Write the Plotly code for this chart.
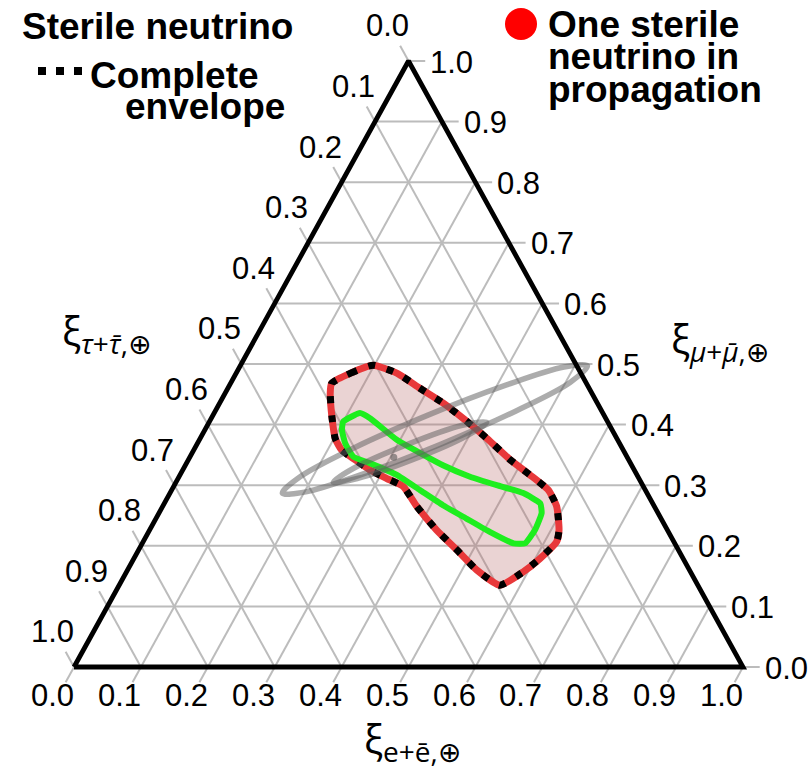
import plotly.graph_objects as go

# ---- ternary axis ticks -------------------------------------------------
tick_vals = [0.0, 0.1, 0.2, 0.3, 0.4, 0.5, 0.6, 0.7, 0.8, 0.9, 1.0]
tick_text = ["0.0", "0.1", "0.2", "0.3", "0.4", "0.5", "0.6", "0.7", "0.8", "0.9", "1.0"]

# ---- flavour-composition regions (xi_e, xi_mu); xi_tau = 1 - xi_e - xi_mu
envelope_e = [0.151, 0.171, 0.198, 0.240, 0.287, 0.335, 0.385, 0.429, 0.481, 0.523,
              0.563, 0.589, 0.612, 0.618, 0.607, 0.593, 0.569, 0.522, 0.476, 0.429,
              0.380, 0.343, 0.312, 0.280, 0.249, 0.221, 0.202, 0.179, 0.157]
envelope_mu = [0.468, 0.485, 0.498, 0.485, 0.460, 0.435, 0.405, 0.377, 0.342, 0.317,
               0.292, 0.265, 0.226, 0.207, 0.179, 0.157, 0.135, 0.160, 0.193, 0.226,
               0.265, 0.298, 0.311, 0.325, 0.342, 0.358, 0.377, 0.413, 0.452]

one_sterile_e = [0.200, 0.218, 0.238, 0.295, 0.341, 0.385, 0.435, 0.482, 0.528, 0.562,
                 0.572, 0.576, 0.572, 0.555, 0.510, 0.464, 0.418, 0.371, 0.324, 0.275,
                 0.244, 0.221, 0.205]
one_sterile_mu = [0.405, 0.419, 0.410, 0.375, 0.353, 0.333, 0.314, 0.300, 0.287, 0.270,
                  0.254, 0.226, 0.204, 0.204, 0.223, 0.245, 0.267, 0.292, 0.317, 0.336,
                  0.347, 0.369, 0.391]

# standard-oscillation regions (grey)
std_outer_e = [0.519, 0.507, 0.450, 0.365, 0.274, 0.202, 0.168, 0.181, 0.237, 0.322, 0.413, 0.485]
std_outer_mu = [0.497, 0.470, 0.423, 0.368, 0.319, 0.289, 0.287, 0.314, 0.361, 0.416, 0.465, 0.495]
std_inner_e = [0.415, 0.396, 0.335, 0.268, 0.235, 0.254, 0.314, 0.381]
std_inner_mu = [0.404, 0.381, 0.342, 0.311, 0.305, 0.328, 0.367, 0.399]
std_best_e = [0.305]
std_best_mu = [0.346]

# ---- drawing helpers ----------------------------------------------------
W, H = 812, 771
TICK_EXT = 0.025


def to_xy(e, mu):
    """Map a composition (xi_e, xi_mu) onto the plane of the triangle."""
    return e + mu / 2.0, mu


def poly_xy(es, mus, close=True):
    xs, ys = [], []
    for e, m in zip(es, mus):
        x, y = to_xy(e, m)
        xs.append(x)
        ys.append(y)
    if close:
        xs.append(xs[0])
        ys.append(ys[0])
    return xs, ys


def px(x):
    return x / W


def py(y):
    return 1 - y / H


fig = go.Figure()

# grid lines of constant xi_mu, xi_e, xi_tau, each running out past the edge as a tick
gx, gy = [], []
for v in tick_vals:
    for (e0, m0), (e1, m1) in [
        ((0.0, v), (1.0 - v + TICK_EXT, v)),                 # xi_mu = v
        ((v, -TICK_EXT), (v, 1.0 - v)),                      # xi_e = v
        ((-TICK_EXT, 1.0 - v + TICK_EXT), (1.0 - v, 0.0)),   # xi_tau = v
    ]:
        x0, y0 = to_xy(e0, m0)
        x1, y1 = to_xy(e1, m1)
        gx += [x0, x1, None]
        gy += [y0, y1, None]
fig.add_trace(go.Scatter(x=gx, y=gy, mode="lines",
                         line=dict(color="#bcbcbc", width=2),
                         hoverinfo="skip", showlegend=False))

# complete envelope: filled region with red outline and black dashes
ex, ey = poly_xy(envelope_e, envelope_mu)
fig.add_trace(go.Scatter(x=ex, y=ey, mode="lines", fill="toself",
                         fillcolor="rgba(185,110,110,0.30)",
                         line=dict(color="#e8383a", width=7, shape="spline", smoothing=0.5),
                         hoverinfo="skip", showlegend=False))
fig.add_trace(go.Scatter(x=ex, y=ey, mode="lines",
                         line=dict(color="black", width=7, dash="7px,12px",
                                   shape="spline", smoothing=0.5),
                         hoverinfo="skip", showlegend=False))

# one sterile neutrino in propagation
ox, oy = poly_xy(one_sterile_e, one_sterile_mu)
fig.add_trace(go.Scatter(x=ox, y=oy, mode="lines",
                         line=dict(color="#1eee1e", width=6, shape="spline", smoothing=0.4),
                         hoverinfo="skip", showlegend=False))

# standard oscillations
for es, ms in [(std_outer_e, std_outer_mu), (std_inner_e, std_inner_mu)]:
    sx, sy = poly_xy(es, ms)
    fig.add_trace(go.Scatter(x=sx, y=sy, mode="lines",
                             line=dict(color="rgba(95,95,95,0.52)", width=5.5,
                                       shape="spline", smoothing=1.0),
                             hoverinfo="skip", showlegend=False))
bx, by = poly_xy(std_best_e, std_best_mu, close=False)
fig.add_trace(go.Scatter(x=bx, y=by, mode="markers",
                         marker=dict(color="rgba(90,90,90,0.6)", size=7),
                         hoverinfo="skip", showlegend=False))

# triangle frame
tx, ty = poly_xy([0.0, 1.0, 0.0], [0.0, 0.0, 1.0])
fig.add_trace(go.Scatter(x=tx, y=ty, mode="lines",
                         line=dict(color="black", width=4.8),
                         hoverinfo="skip", showlegend=False))

# tick labels
tick_font = dict(family="Liberation Sans, Arial, sans-serif", size=31, color="black")
annotations = []
for v, t in zip(tick_vals, tick_text):
    x, y = to_xy(v, -TICK_EXT)                     # bottom: xi_e
    annotations.append(dict(x=x, y=y, text=t, showarrow=False, font=tick_font,
                            xanchor="center", yanchor="middle", xshift=-13, yshift=-13))
    x, y = to_xy(1.0 - v + TICK_EXT, v)            # right: xi_mu
    annotations.append(dict(x=x, y=y, text=t, showarrow=False, font=tick_font,
                            xanchor="left", yanchor="middle", xshift=3, yshift=-1))
    x, y = to_xy(-TICK_EXT, 1.0 - v + TICK_EXT)    # left: xi_tau
    annotations.append(dict(x=x, y=y, text=t, showarrow=False, font=tick_font,
                            xanchor="center", yanchor="middle", xshift=-13, yshift=20))

# axis titles
title_font = dict(family="Open Sans, DejaVu Sans, sans-serif", size=40, color="black")
for txt, xp, yp in [
    ("ξ<sub><i>τ</i>+<i>τ̄</i>,⊕</sub>", 106, 332),
    ("ξ<sub><i>μ</i>+<i>μ̄</i>,⊕</sub>", 720, 340),
    ("ξ<sub>e+ē,⊕</sub>", 412, 740),
]:
    annotations.append(dict(x=px(xp), y=py(yp), xref="paper", yref="paper", text=txt,
                            showarrow=False, font=title_font,
                            xanchor="center", yanchor="middle"))

# legend text
leg_font = dict(family="Liberation Sans, Arial, sans-serif", size=37, color="black",
                weight="bold")
for txt, xp, yp in [
    ("Sterile neutrino", 20, 27),
    ("Complete", 88, 76),
    ("envelope", 123, 107),
    ("One sterile", 546, 25),
    ("neutrino in", 546, 57),
    ("propagation", 546, 89),
]:
    annotations.append(dict(x=px(xp), y=py(yp), xref="paper", yref="paper", text=txt,
                            showarrow=False, font=leg_font,
                            xanchor="left", yanchor="middle"))

# legend keys: dashed envelope line and red disc
shapes = []
for x0 in (38, 56, 74):
    shapes.append(dict(type="rect", xref="paper", yref="paper",
                       x0=px(x0), x1=px(x0 + 8), y0=py(75), y1=py(67),
                       fillcolor="black", line=dict(width=0)))
shapes.append(dict(type="circle", xref="paper", yref="paper", x0=px(505), x1=px(537),
                   y0=py(40), y1=py(8), fillcolor="#ff0000", line=dict(width=0)))

x_lo = -74 / 669
x_hi = (W - 74) / 669
y_lo = (667 - H) / 606
y_hi = 667 / 606

fig.update_layout(
    width=W, height=H,
    margin=dict(l=0, r=0, t=0, b=0),
    paper_bgcolor="white", plot_bgcolor="white",
    xaxis=dict(range=[x_lo, x_hi], visible=False, fixedrange=True),
    yaxis=dict(range=[y_lo, y_hi], visible=False, fixedrange=True),
    annotations=annotations,
    shapes=shapes,
    showlegend=False,
)

fig.write_html("out.html")
